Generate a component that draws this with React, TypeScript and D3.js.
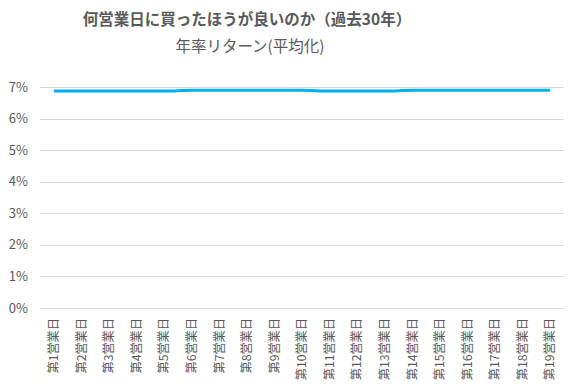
import React from "react";
import * as d3 from "d3";

const categories = Array.from({ length: 19 }, (_, i) => `第${i + 1}営業日`);
const values = [6.87, 6.87, 6.87, 6.87, 6.87, 6.9, 6.9, 6.9, 6.9, 6.9, 6.87, 6.87, 6.87, 6.9, 6.9, 6.9, 6.9, 6.9, 6.9];
const yTicks = [0, 1, 2, 3, 4, 5, 6, 7];
const title = "何営業日に買ったほうが良いのか（過去30年）";
const subtitle = "年率リターン(平均化)";

const W = 577, H = 388;
const left = 40, right = 564, top = 87, bottom = 308;
const font = "'Noto Sans CJK JP', 'Noto Sans', sans-serif";
const textColor = "#595959";

export default function App() {
  const x = d3.scaleBand<string>().domain(categories).range([left, right]);
  const y = d3.scaleLinear().domain([0, 7]).range([bottom, top]);
  const line = d3
    .line<number>()
    .x((_, i) => (x(categories[i]) as number) + x.bandwidth() / 2)
    .y((d) => y(d))
    .curve(d3.curveMonotoneX);

  return (
    <svg width={W} height={H} style={{ position: "absolute", left: 0, top: 0, background: "#fff" }}>
      <rect width={W} height={H} fill="#fff" />
      <text x={247} y={25} textAnchor="middle" fontFamily={font} fontWeight="bold" fontSize={15.5} fill={textColor}>
        {title}
      </text>
      <text x={250} y={52} textAnchor="middle" fontFamily={font} fontSize={15.5} fill={textColor}>
        {subtitle}
      </text>
      {yTicks.map((t) => (
        <g key={t}>
          <line x1={left} x2={right} y1={Math.round(y(t)) + 0.5} y2={Math.round(y(t)) + 0.5} stroke="#d9d9d9" strokeWidth={1} />
          <text x={28} y={y(t)} dy="0.35em" textAnchor="end" fontFamily={font} fontSize={13} fill={textColor}>
            {`${t}%`}
          </text>
        </g>
      ))}
      <path d={line(values) || ""} fill="none" stroke="#00B0F0" strokeWidth={3} strokeLinecap="butt" />
      {categories.map((c) => {
        const cx = (x(c) as number) + x.bandwidth() / 2;
        return (
          <text
            key={c}
            transform={`translate(${cx},${318}) rotate(-90)`}
            textAnchor="end"
            dy="0.35em"
            fontFamily={font}
            fontSize={12.2}
            fill={textColor}
          >
            {c}
          </text>
        );
      })}
    </svg>
  );
}
